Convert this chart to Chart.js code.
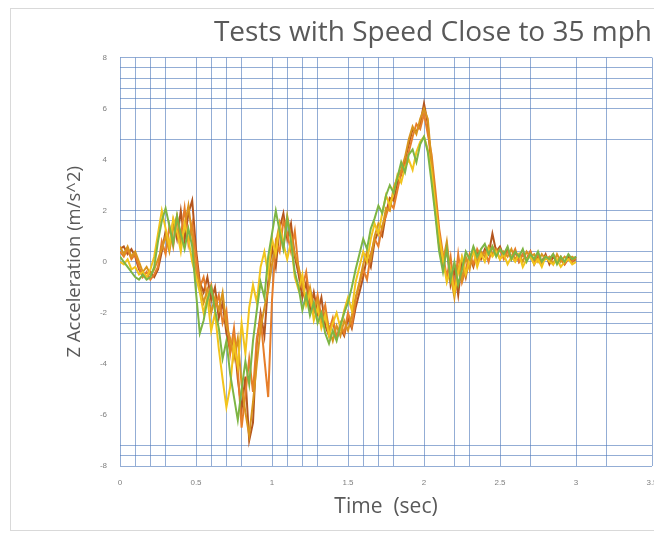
<!DOCTYPE html>
<html>
<head>
<meta charset="utf-8">
<script src="https://cdn.jsdelivr.net/npm/chart.js@4.4.1/dist/chart.umd.min.js"></script>
<style>
  html, body { margin: 0; padding: 0; background: #fff; overflow: hidden; }
  #wrap { width: 654px; height: 533px; overflow: hidden; }
</style>
</head>
<body>
<div id="wrap"><canvas id="chart" width="870" height="533"></canvas></div>
<script>
// Z acceleration runs, sampled every 0.025 s from t = 0 to 3 s
const sampleStep = 0.025;

const runGreen = [
    0.2, 0.0, -0.2, -0.4, -0.6, -0.7, -0.5, -0.7, -0.6, -0.2,
    0.8, 1.6, 2.1, 1.4, 0.7, 1.8, 1.1, 0.5, 1.3, 0.6,
    -1.2, -2.8, -2.3, -1.5, -1.0, -1.9, -2.6, -3.8, -3.1, -4.4,
    -5.3, -6.2, -5.0, -3.9, -4.8, -3.1, -1.9, -0.8, -1.4, 0.2,
    1.1, 2.0, 1.2, 0.5, 1.7, 0.8, -0.4, -1.0, -1.9, -1.3,
    -2.1, -1.6, -2.4, -2.0, -2.8, -3.2, -2.7, -3.1, -2.5, -2.0,
    -1.6, -1.0, -0.3, 0.3, 0.9, 0.5, 1.3, 1.7, 2.2, 1.9,
    2.6, 3.0, 2.7, 3.3, 3.9, 3.5, 4.2, 4.4, 3.9, 4.6,
    4.9, 4.3, 3.1, 1.8, 0.4, -0.4, 0.5, -0.7, 0.0, -0.9,
    -0.3, 0.4, 0.1, 0.6, 0.2, 0.5, 0.7, 0.3, 0.6, 0.2,
    0.5, 0.3, 0.6, 0.1, 0.4, 0.2, 0.5, 0.0, 0.3, 0.1,
    0.4, 0.0, 0.2, 0.1, 0.3, -0.1, 0.2, 0.0, 0.3, 0.1,
    0.2
];

const runYellow = [
    0.0, -0.1, 0.1, -0.3, -0.2, -0.5, -0.4, -0.6, -0.3, 0.2,
    1.1, 2.0, 1.3, 0.6, 1.7, 1.2, 0.4, 1.5, 0.9, 0.0,
    -0.6, -1.2, -2.0, -1.4, -2.7, -2.0, -3.4, -4.6, -5.7, -4.9,
    -3.2, -4.1, -2.4, -3.6, -1.8, -0.9, -1.6, -0.2, 0.4, -0.5,
    0.9, 0.3, 1.4, 0.7, 0.1, 0.8, -0.6, -1.1, -0.5, -1.7,
    -1.2, -2.3, -1.8, -2.6, -2.1, -2.9, -2.4, -2.0, -2.6, -1.9,
    -1.4, -1.9, -0.8, -0.2, 0.4, 0.0, 0.9, 1.5, 1.1, 1.9,
    2.6, 2.2, 2.7, 3.4, 3.1, 3.7, 4.0, 3.6, 4.3, 4.7,
    4.9, 4.4, 3.5, 2.2, 1.0, 0.1, -0.8, -0.3, -1.2, -0.4,
    0.2, -0.5, 0.1, 0.4, -0.2, 0.3, 0.0, 0.5, 0.2, 0.4,
    0.1, 0.3, -0.1, 0.2, 0.0, 0.3, -0.2, 0.1, 0.2, -0.1,
    0.1, -0.2, 0.2, 0.0, -0.1, 0.1, -0.2, 0.0, 0.1, -0.1,
    0.0
];

const runOchre = [
    0.6, 0.3, 0.6, 0.2, 0.4, 0.0, -0.4, -0.2, -0.5, -0.3,
    0.1, 0.5, 1.0, 0.4, 1.3, 1.8, 0.7, 1.4, 2.2, 1.0,
    -0.4, -0.9, -1.6, -1.1, -2.0, -1.4, -1.9, -1.2, -2.5, -3.0,
    -3.8, -3.0, -4.8, -5.9, -6.8, -5.5, -4.0, -2.6, -1.8, -1.1,
    -0.1, 0.7, 1.5, 0.6, 1.8, 1.0, 0.3, -0.2, -0.9, -1.6,
    -1.0, -1.8, -1.5, -2.5, -2.0, -2.6, -3.1, -2.5, -2.9, -2.3,
    -2.7, -2.1, -1.4, -0.8, -0.1, 0.4, 0.1, 1.0, 1.5, 1.3,
    2.1, 2.0, 2.9, 3.3, 3.6, 4.1, 4.8, 5.3, 5.0, 5.6,
    6.0, 5.6, 3.9, 2.4, 0.9, 0.0, 0.8, -0.5, -1.4, -0.2,
    -0.7, 0.2, -0.3, 0.5, 0.0, 0.4, 0.2, 0.6, 0.3, 0.5,
    0.1, 0.4, 0.2, 0.5, 0.1, 0.3, 0.0, 0.4, 0.2, 0.3,
    0.0, 0.3, 0.1, 0.2, -0.1, 0.3, 0.0, 0.2, 0.1, 0.2,
    0.1
];

const runOrange = [
    0.4, 0.2, 0.5, 0.1, 0.3, -0.2, -0.6, -0.4, -0.7, -0.5,
    -0.2, 0.8, 0.3, 1.4, 0.6, 1.7, 1.0, 2.1, 0.7, 1.5,
    0.2, -1.0, -0.6, -1.4, -0.9, -1.8, -1.3, -2.4, -1.9, -3.6,
    -2.6, -4.2, -6.5, -5.2, -3.8, -5.1, -3.0, -2.2, -3.8, -5.3,
    -1.5, 0.8, 0.4, 1.6, 1.1, 0.4, 1.2, -0.3, -1.0, -0.4,
    -1.6, -2.0, -1.3, -2.2, -1.7, -2.7, -2.2, -3.0, -2.4, -2.8,
    -2.0, -2.5, -1.5, -0.9, -0.3, -0.7, 0.3, 0.9, 0.6, 1.4,
    1.8, 2.3, 2.1, 2.8, 3.5, 3.8, 4.3, 4.9, 5.4, 5.2,
    5.8, 5.0, 4.2, 2.8, 1.3, 0.3, -0.6, 0.2, -1.1, 0.3,
    -0.8, -0.3, 0.3, -0.1, 0.5, 0.2, 0.4, 0.0, 0.6, 0.3,
    0.5, 0.1, 0.4, 0.2, 0.5, 0.0, 0.3, 0.1, 0.4, 0.0,
    0.3, -0.1, 0.2, 0.1, 0.3, 0.0, 0.2, -0.1, 0.1, 0.0,
    0.2
];

const runBrown = [
    0.5, 0.6, 0.3, 0.5, 0.2, -0.3, -0.5, -0.6, -0.4, -0.6,
    -0.3, 0.4, 1.2, 0.6, 1.6, 0.9, 2.0, 0.8, 1.9, 2.4,
    0.5, -0.8, -1.2, -0.6, -1.5, -1.0, -2.2, -1.6, -2.8, -3.5,
    -2.9, -4.6, -5.8, -4.5, -7.0, -6.3, -3.2, -2.0, -2.9, -0.8,
    0.6, -0.2, 1.3, 1.9, 0.9, 1.5, 0.2, -0.5, -1.4, -0.8,
    -1.9, -1.2, -2.0, -1.4, -2.5, -2.9, -2.3, -3.0, -2.6, -2.9,
    -2.2, -2.6, -1.8, -1.2, -0.6, 0.2, -0.2, 0.8, 1.2, 1.0,
    1.9, 2.5, 2.4, 3.1, 3.4, 4.0, 4.6, 5.2, 5.1, 5.4,
    6.2, 5.4, 3.6, 2.0, 0.6, -0.2, 0.6, -0.9, -0.3, -1.3,
    0.1, -0.6, 0.2, -0.2, 0.4, 0.1, 0.5, 0.3, 1.1, 0.4,
    0.6, 0.2, 0.5, 0.1, 0.4, 0.0, 0.3, 0.1, 0.4, -0.1,
    0.2, 0.0, 0.3, -0.1, 0.2, 0.0, 0.1, -0.1, 0.2, 0.0,
    0.1
];

// axis labels and the hand-placed gridlines
const xTickLabels = [0, 0.5, 1, 1.5, 2, 2.5, 3, 3.5];
const yTickLabels = [-8, -6, -4, -2, 0, 2, 4, 6, 8];
const xGridValues = [0, 0.1, 0.2, 0.3, 0.5, 0.6, 0.7, 0.8, 1, 1.1, 1.2, 1.3, 1.5, 1.6, 1.7, 1.8, 2, 2.2, 2.3, 2.5, 2.7, 3, 3.2, 3.5];
const yGridValues = [-8, -7.6, -7.2, -2.8, -2.4, -2, -1.6, -1.2, -0.8, -0.4, 0, 0.4, 1.6, 2, 4.8, 6, 6.4, 6.8, 7.2, 7.6, 8];

const runs = [
    { label: 'Run 1', values: runGreen, color: '#7DB544' },
    { label: 'Run 2', values: runYellow, color: '#F2C41C' },
    { label: 'Run 3', values: runOchre, color: '#D9951E' },
    { label: 'Run 4', values: runOrange, color: '#E67E2A' },
    { label: 'Run 5', values: runBrown, color: '#B4561E' },
];

const gridColor = 'rgba(80, 122, 188, 0.62)';
const mergeTicks = (grid, labels) => [...new Set([...grid, ...labels])].sort((a, b) => a - b);
const xTicks = mergeTicks(xGridValues, xTickLabels);
const yTicks = mergeTicks(yGridValues, yTickLabels);

const toPoints = (values) => values.map((v, i) => ({ x: +(i * sampleStep).toFixed(3), y: v }));

// thin frame around the whole chart
const chartFrame = {
    id: 'chartFrame',
    beforeDraw(chart) {
        const { ctx } = chart;
        ctx.save();
        ctx.strokeStyle = '#d9d9d9';
        ctx.lineWidth = 1;
        ctx.strokeRect(10.5, 8.5, chart.width - 20, 522);
        ctx.restore();
    },
};

const tickFont = { family: 'Liberation Sans', size: 8 };

new Chart(document.getElementById('chart').getContext('2d'), {
    type: 'line',
    data: {
        datasets: runs.map((run) => ({
            label: run.label,
            data: toPoints(run.values),
            borderColor: run.color,
            backgroundColor: run.color,
            borderWidth: 2,
            pointRadius: 0,
            tension: 0,
            fill: false,
        })),
    },
    options: {
        responsive: false,
        animation: false,
        layout: { padding: { left: 10, right: 218, top: 10, bottom: 5 } },
        plugins: {
            legend: { display: false },
            tooltip: { enabled: false },
            title: {
                display: true,
                align: 'end',
                text: 'Tests with Speed Close to 35 mph',
                color: '#595959',
                font: { family: 'Open Sans', size: 28, weight: 'normal' },
                padding: { top: 6, bottom: 8 },
            },
        },
        scales: {
            x: {
                type: 'linear',
                min: 0,
                max: 3.5,
                afterBuildTicks: (axis) => { axis.ticks = xTicks.map((value) => ({ value })); },
                afterFit: (axis) => { axis.height = 62; },
                grid: {
                    color: (ctx) => (xGridValues.includes(ctx.tick && ctx.tick.value) ? gridColor : 'rgba(0,0,0,0)'),
                    lineWidth: 1,
                    drawTicks: false,
                },
                border: { display: false },
                ticks: {
                    autoSkip: false,
                    maxRotation: 0,
                    padding: 12,
                    color: '#7f7f7f',
                    font: tickFont,
                    callback: (value) => (xTickLabels.includes(value) ? String(value) : ''),
                },
                title: {
                    display: true,
                    text: 'Time  (sec)',
                    color: '#595959',
                    font: { family: 'Open Sans', size: 21 },
                    padding: { top: 0, bottom: 8 },
                },
            },
            y: {
                min: -8,
                max: 8,
                afterBuildTicks: (axis) => { axis.ticks = yTicks.map((value) => ({ value })); },
                afterFit: (axis) => { axis.width = 110; },
                grid: {
                    color: (ctx) => (yGridValues.includes(ctx.tick && ctx.tick.value) ? gridColor : 'rgba(0,0,0,0)'),
                    lineWidth: 1,
                    drawTicks: false,
                },
                border: { display: false },
                ticks: {
                    autoSkip: false,
                    padding: 13,
                    color: '#7f7f7f',
                    font: tickFont,
                    callback: (value) => (yTickLabels.includes(value) ? String(value) : ''),
                },
                title: {
                    display: true,
                    text: 'Z Acceleration (m/s^2)',
                    color: '#595959',
                    font: { family: 'Open Sans', size: 18.5 },
                    padding: { top: 54, bottom: 0 },
                },
            },
        },
    },
    plugins: [chartFrame],
});
</script>
</body>
</html>
